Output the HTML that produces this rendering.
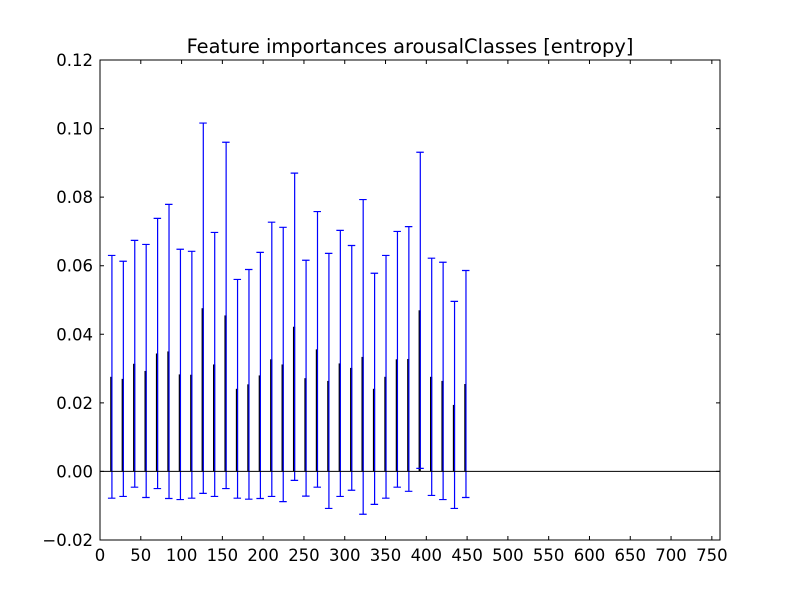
<!DOCTYPE html>
<html><head><meta charset="utf-8"><style>
body{margin:0;background:#fff}
svg text{font-family:"DejaVu Sans","Liberation Sans",sans-serif;fill:#000}
</style></head><body>
<svg id="chart" width="800" height="600" xmlns="http://www.w3.org/2000/svg">
<rect width="800" height="600" fill="#fff"/>
<text x="410" y="53" font-size="19.4" text-anchor="middle">Feature importances arousalClasses [entropy]</text>
<g id="marks"></g>
<g id="axes"></g>
</svg>
<script>
const xPositions=[14,28,42,56,70,84,98,112,126,140,154,168,182,196,210,224,238,252,266,280,294,308,322,336,350,364,378,392,406,420,434,448];
const importances=[0.0276,0.0270,0.0314,0.0293,0.0344,0.0350,0.0283,0.0282,0.0476,0.0312,0.0455,0.0241,0.0254,0.0280,0.0327,0.0312,0.0422,0.0272,0.0356,0.0264,0.0315,0.0302,0.0334,0.0241,0.0276,0.0327,0.0328,0.0470,0.0276,0.0264,0.0194,0.0255];
const errors=[0.0354,0.0343,0.0360,0.0369,0.0394,0.0429,0.0365,0.0360,0.0540,0.0385,0.0505,0.0319,0.0335,0.0359,0.0400,0.0400,0.0448,0.0344,0.0402,0.0372,0.0388,0.0357,0.0459,0.0337,0.0354,0.0373,0.0386,0.0461,0.0346,0.0346,0.0302,0.0331];
const xTicks=[0,50,100,150,200,250,300,350,400,450,500,550,600,650,700,750];
const yTicks=[-0.02,0,0.02,0.04,0.06,0.08,0.10,0.12];
const yTickLabels=["\u22120.02","0.00","0.02","0.04","0.06","0.08","0.10","0.12"];

const L=100,R=720,T=60,B=540,xMin=0,xMax=760,yMin=-0.02,yMax=0.12;
const sx=v=>L+(v-xMin)/(xMax-xMin)*(R-L);
const sy=v=>B-(v-yMin)/(yMax-yMin)*(B-T);
const NS="http://www.w3.org/2000/svg";
function mk(tag,attrs,parent){const e=document.createElementNS(NS,tag);for(const k in attrs)e.setAttribute(k,attrs[k]);parent.appendChild(e);return e;}
const marks=document.getElementById('marks'),axes=document.getElementById('axes');

importances.forEach((v,i)=>{
  const x=sx(xPositions[i]);
  const bar=mk('rect',{x:x-1.2,y:Math.min(sy(v),sy(0)),width:2.2,height:Math.abs(sy(0)-sy(v)),fill:'#000'},marks);
  
  
  const t=sy(v+errors[i]),b=sy(v-errors[i]);
  const eb=mk('path',{d:`M${x+0.5},${t}V${b}M${x-3.5},${t}H${x+4}M${x-3.5},${b}H${x+4}`,stroke:'#0000ff','stroke-width':1.2,fill:'none'},marks);
  
  
});
const zl=mk('line',{x1:L,x2:R,y1:sy(0),y2:sy(0),stroke:'#000','stroke-width':1},marks);



const frame=mk('rect',{x:L,y:T,width:R-L,height:B-T,fill:'none',stroke:'#000','stroke-width':1},axes);


xTicks.forEach(v=>{
  const x=sx(v);
  const tk=mk('path',{d:`M${x},${B}v-4M${x},${T}v4`,stroke:'#000','stroke-width':1},axes);
  
  
  const tx=mk('text',{x:x,y:B+21,'font-size':16.5,'text-anchor':'middle'},axes);
  tx.textContent=String(v);
  
  
});
yTicks.forEach((v,i)=>{
  const y=sy(v);
  const tk=mk('path',{d:`M${L},${y}h4M${R},${y}h-4`,stroke:'#000','stroke-width':1},axes);
  
  
  const tx=mk('text',{x:L-7,y:y+6,'font-size':16.5,'text-anchor':'end'},axes);
  tx.textContent=yTickLabels[i];
  
  
});
</script>
</body></html>
